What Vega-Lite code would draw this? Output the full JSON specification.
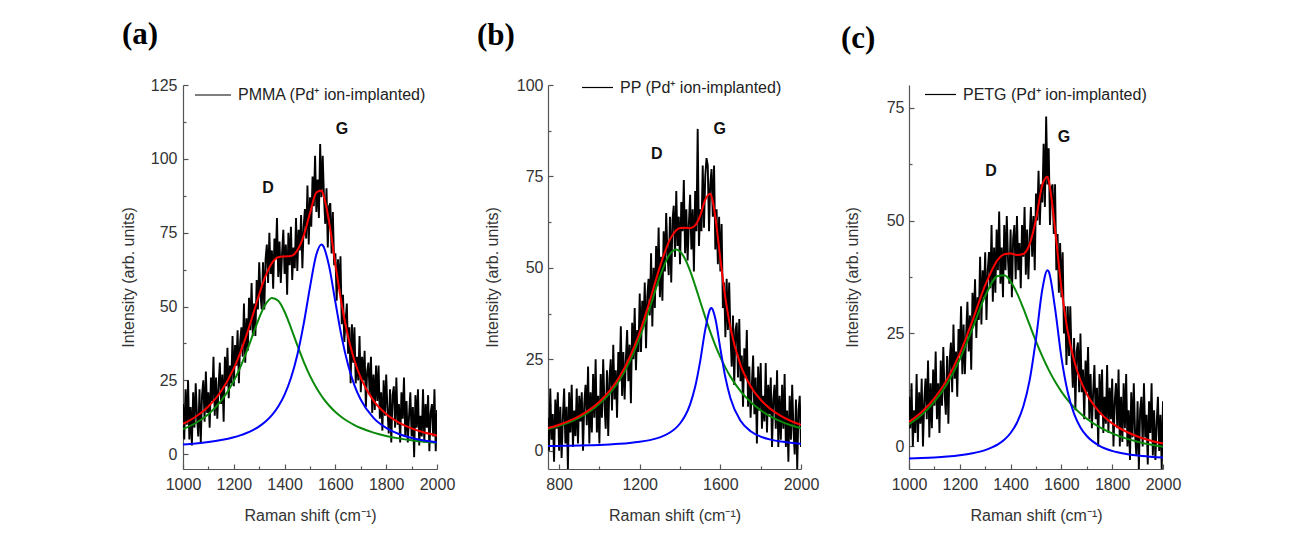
{
"$schema": "https://vega.github.io/schema/vega-lite/v6.json",
"background": "white",
"padding": {"left": 120, "top": 18, "right": 5, "bottom": 5},
"spacing": 22,
"datasets": {
"a_raw": [{"x":1000,"y":17},{"x":1005,"y":5},{"x":1010,"y":22},{"x":1015,"y":10},{"x":1020,"y":25},{"x":1025,"y":5},{"x":1030,"y":16},{"x":1035,"y":3},{"x":1040,"y":21},{"x":1045,"y":9},{"x":1050,"y":24},{"x":1055,"y":13},{"x":1060,"y":6},{"x":1065,"y":22},{"x":1070,"y":4},{"x":1075,"y":20},{"x":1080,"y":25},{"x":1085,"y":11},{"x":1090,"y":28},{"x":1095,"y":14},{"x":1100,"y":21},{"x":1105,"y":9},{"x":1110,"y":26},{"x":1115,"y":18},{"x":1120,"y":33},{"x":1125,"y":13},{"x":1130,"y":26},{"x":1135,"y":12},{"x":1140,"y":23},{"x":1145,"y":31},{"x":1150,"y":17},{"x":1155,"y":27},{"x":1160,"y":11},{"x":1165,"y":33},{"x":1170,"y":23},{"x":1175,"y":36},{"x":1180,"y":19},{"x":1185,"y":30},{"x":1190,"y":24},{"x":1195,"y":40},{"x":1200,"y":23},{"x":1205,"y":37},{"x":1210,"y":30},{"x":1215,"y":42},{"x":1220,"y":24},{"x":1225,"y":38},{"x":1230,"y":43},{"x":1235,"y":33},{"x":1240,"y":51},{"x":1245,"y":31},{"x":1250,"y":46},{"x":1255,"y":35},{"x":1260,"y":53},{"x":1265,"y":42},{"x":1270,"y":58},{"x":1275,"y":40},{"x":1280,"y":51},{"x":1285,"y":40},{"x":1290,"y":59},{"x":1295,"y":49},{"x":1300,"y":65},{"x":1305,"y":54},{"x":1310,"y":49},{"x":1315,"y":65},{"x":1320,"y":49},{"x":1325,"y":66},{"x":1330,"y":71},{"x":1335,"y":58},{"x":1340,"y":75},{"x":1345,"y":61},{"x":1350,"y":69},{"x":1355,"y":56},{"x":1360,"y":73},{"x":1365,"y":66},{"x":1370,"y":80},{"x":1375,"y":60},{"x":1380,"y":72},{"x":1385,"y":58},{"x":1390,"y":68},{"x":1395,"y":76},{"x":1400,"y":61},{"x":1405,"y":71},{"x":1410,"y":54},{"x":1415,"y":75},{"x":1420,"y":64},{"x":1425,"y":77},{"x":1430,"y":59},{"x":1435,"y":70},{"x":1440,"y":63},{"x":1445,"y":80},{"x":1450,"y":62},{"x":1455,"y":76},{"x":1460,"y":69},{"x":1465,"y":81},{"x":1470,"y":63},{"x":1475,"y":77},{"x":1480,"y":83},{"x":1485,"y":73},{"x":1490,"y":91},{"x":1495,"y":71},{"x":1500,"y":87},{"x":1505,"y":77},{"x":1510,"y":94},{"x":1515,"y":84},{"x":1520,"y":101},{"x":1525,"y":82},{"x":1530,"y":93},{"x":1535,"y":80},{"x":1540,"y":105},{"x":1545,"y":87},{"x":1550,"y":101},{"x":1555,"y":87},{"x":1560,"y":78},{"x":1565,"y":90},{"x":1570,"y":70},{"x":1575,"y":84},{"x":1580,"y":85},{"x":1585,"y":68},{"x":1590,"y":82},{"x":1595,"y":64},{"x":1600,"y":68},{"x":1605,"y":52},{"x":1610,"y":66},{"x":1615,"y":56},{"x":1620,"y":67},{"x":1625,"y":44},{"x":1630,"y":54},{"x":1635,"y":38},{"x":1640,"y":45},{"x":1645,"y":51},{"x":1650,"y":34},{"x":1655,"y":43},{"x":1660,"y":24},{"x":1665,"y":44},{"x":1670,"y":31},{"x":1675,"y":43},{"x":1680,"y":24},{"x":1685,"y":33},{"x":1690,"y":25},{"x":1695,"y":40},{"x":1700,"y":21},{"x":1705,"y":33},{"x":1710,"y":25},{"x":1715,"y":35},{"x":1720,"y":16},{"x":1725,"y":28},{"x":1730,"y":31},{"x":1735,"y":20},{"x":1740,"y":33},{"x":1745,"y":14},{"x":1750,"y":27},{"x":1755,"y":15},{"x":1760,"y":30},{"x":1765,"y":18},{"x":1770,"y":30},{"x":1775,"y":12},{"x":1780,"y":21},{"x":1785,"y":8},{"x":1790,"y":25},{"x":1795,"y":13},{"x":1800,"y":27},{"x":1805,"y":15},{"x":1810,"y":7},{"x":1815,"y":22},{"x":1820,"y":4},{"x":1825,"y":20},{"x":1830,"y":23},{"x":1835,"y":9},{"x":1840,"y":26},{"x":1845,"y":10},{"x":1850,"y":17},{"x":1855,"y":4},{"x":1860,"y":21},{"x":1865,"y":12},{"x":1870,"y":26},{"x":1875,"y":6},{"x":1880,"y":18},{"x":1885,"y":4},{"x":1890,"y":13},{"x":1895,"y":21},{"x":1900,"y":6},{"x":1905,"y":16},{"x":1910,"y":-1},{"x":1915,"y":20},{"x":1920,"y":9},{"x":1925,"y":22},{"x":1930,"y":3},{"x":1935,"y":13},{"x":1940,"y":6},{"x":1945,"y":22},{"x":1950,"y":4},{"x":1955,"y":17},{"x":1960,"y":9},{"x":1965,"y":20},{"x":1970,"y":1},{"x":1975,"y":14},{"x":1980,"y":17},{"x":1985,"y":6},{"x":1990,"y":22},{"x":1995,"y":1},{"x":2000,"y":15}],
"a_fit": [{"x":1000,"D":8.52,"G":3.27,"R":10.29},{"x":1050,"D":10.57,"G":3.63,"R":12.7},{"x":1100,"D":13.56,"G":4.12,"R":16.18},{"x":1150,"D":18.04,"G":4.79,"R":21.33},{"x":1200,"D":24.82,"G":5.75,"R":29.07},{"x":1225,"D":29.34,"G":6.39,"R":34.23},{"x":1250,"D":34.62,"G":7.18,"R":40.3},{"x":1275,"D":40.46,"G":8.17,"R":47.13},{"x":1300,"D":46.2,"G":9.44,"R":54.14},{"x":1325,"D":50.77,"G":11.09,"R":60.36},{"x":1350,"D":52.93,"G":13.26,"R":64.69},{"x":1375,"D":51.97,"G":16.19,"R":66.66},{"x":1400,"D":48.24,"G":20.21,"R":66.95},{"x":1425,"D":42.81,"G":25.8,"R":67.11},{"x":1450,"D":36.92,"G":33.6,"R":69.02},{"x":1475,"D":31.37,"G":44.06,"R":73.93},{"x":1500,"D":26.53,"G":56.59,"R":81.62},{"x":1525,"D":22.49,"G":67.59,"R":88.58},{"x":1545,"D":19.79,"G":71.0,"R":89.29},{"x":1550,"D":19.18,"G":70.78,"R":88.46},{"x":1575,"D":16.5,"G":63.77,"R":78.77},{"x":1600,"D":14.31,"G":51.48,"R":64.29},{"x":1625,"D":12.54,"G":39.55,"R":50.59},{"x":1650,"D":11.08,"G":30.18,"R":39.76},{"x":1675,"D":9.87,"G":23.34,"R":31.71},{"x":1700,"D":8.87,"G":18.44,"R":25.81},{"x":1750,"D":7.32,"G":12.31,"R":18.13},{"x":1800,"D":6.2,"G":8.9,"R":13.6},{"x":1850,"D":5.37,"G":6.84,"R":10.71},{"x":1900,"D":4.73,"G":5.52,"R":8.75},{"x":1950,"D":4.24,"G":4.63,"R":7.37},{"x":2000,"D":3.85,"G":4.01,"R":6.36}],
"a_lab": [{"x":1335,"y":90,"t":"D"},{"x":1626,"y":110,"t":"G"}],
"b_raw": [{"x":745,"y":9},{"x":750,"y":0},{"x":756.25,"y":17},{"x":762.5,"y":3},{"x":768.75,"y":10},{"x":775,"y":-3},{"x":781.25,"y":14},{"x":787.5,"y":6},{"x":793.75,"y":16},{"x":800,"y":0},{"x":806.25,"y":12},{"x":812.5,"y":-2},{"x":818.75,"y":9},{"x":825,"y":17},{"x":831.25,"y":2},{"x":837.5,"y":12},{"x":843.75,"y":-5},{"x":850,"y":16},{"x":856.25,"y":5},{"x":862.5,"y":18},{"x":868.75,"y":1},{"x":875,"y":11},{"x":881.25,"y":4},{"x":887.5,"y":17},{"x":893.75,"y":2},{"x":900,"y":15},{"x":906.25,"y":8},{"x":912.5,"y":16},{"x":918.75,"y":0},{"x":925,"y":13},{"x":931.25,"y":18},{"x":937.5,"y":7},{"x":943.75,"y":23},{"x":950,"y":2},{"x":956.25,"y":16},{"x":962.5,"y":5},{"x":968.75,"y":21},{"x":975,"y":9},{"x":981.25,"y":25},{"x":987.5,"y":5},{"x":993.75,"y":15},{"x":1000,"y":2},{"x":1006.25,"y":21},{"x":1012.5,"y":9},{"x":1018.75,"y":25},{"x":1025,"y":13},{"x":1031.25,"y":6},{"x":1037.5,"y":22},{"x":1043.75,"y":4},{"x":1050,"y":20},{"x":1056.25,"y":25},{"x":1062.5,"y":11},{"x":1068.75,"y":29},{"x":1075,"y":14},{"x":1081.25,"y":22},{"x":1087.5,"y":9},{"x":1093.75,"y":27},{"x":1100,"y":19},{"x":1106.25,"y":34},{"x":1112.5,"y":15},{"x":1118.75,"y":27},{"x":1125,"y":14},{"x":1131.25,"y":25},{"x":1137.5,"y":33},{"x":1143.75,"y":19},{"x":1150,"y":29},{"x":1156.25,"y":13},{"x":1162.5,"y":35},{"x":1168.75,"y":25},{"x":1175,"y":39},{"x":1181.25,"y":22},{"x":1187.5,"y":33},{"x":1193.75,"y":27},{"x":1200,"y":43},{"x":1206.25,"y":27},{"x":1212.5,"y":41},{"x":1218.75,"y":34},{"x":1225,"y":46},{"x":1231.25,"y":28},{"x":1237.5,"y":42},{"x":1243.75,"y":47},{"x":1250,"y":37},{"x":1256.25,"y":54},{"x":1262.5,"y":34},{"x":1268.75,"y":50},{"x":1275,"y":39},{"x":1281.25,"y":56},{"x":1287.5,"y":45},{"x":1293.75,"y":61},{"x":1300,"y":42},{"x":1306.25,"y":53},{"x":1312.5,"y":41},{"x":1318.75,"y":60},{"x":1325,"y":49},{"x":1331.25,"y":65},{"x":1337.5,"y":54},{"x":1343.75,"y":48},{"x":1350,"y":64},{"x":1356.25,"y":46},{"x":1362.5,"y":63},{"x":1368.75,"y":67},{"x":1375,"y":53},{"x":1381.25,"y":71},{"x":1387.5,"y":56},{"x":1393.75,"y":64},{"x":1400,"y":51},{"x":1406.25,"y":68},{"x":1412.5,"y":60},{"x":1418.75,"y":74},{"x":1425,"y":54},{"x":1431.25,"y":66},{"x":1437.5,"y":52},{"x":1443.75,"y":62},{"x":1450,"y":70},{"x":1456.25,"y":55},{"x":1462.5,"y":66},{"x":1468.75,"y":49},{"x":1475,"y":71},{"x":1481.25,"y":60},{"x":1487.5,"y":88},{"x":1493.75,"y":56},{"x":1500,"y":66},{"x":1506.25,"y":60},{"x":1512.5,"y":78},{"x":1518.75,"y":61},{"x":1525,"y":75},{"x":1531.25,"y":80},{"x":1537.5,"y":78},{"x":1543.75,"y":60},{"x":1550,"y":73},{"x":1556.25,"y":77},{"x":1562.5,"y":64},{"x":1568.75,"y":78},{"x":1575,"y":55},{"x":1581.25,"y":66},{"x":1587.5,"y":51},{"x":1593.75,"y":64},{"x":1600,"y":49},{"x":1606.25,"y":62},{"x":1612.5,"y":39},{"x":1618.75,"y":46},{"x":1625,"y":31},{"x":1631.25,"y":47},{"x":1637.5,"y":33},{"x":1643.75,"y":46},{"x":1650,"y":32},{"x":1656.25,"y":23},{"x":1662.5,"y":37},{"x":1668.75,"y":18},{"x":1675,"y":33},{"x":1681.25,"y":35},{"x":1687.5,"y":20},{"x":1693.75,"y":36},{"x":1700,"y":19},{"x":1706.25,"y":26},{"x":1712.5,"y":12},{"x":1718.75,"y":28},{"x":1725,"y":20},{"x":1731.25,"y":33},{"x":1737.5,"y":12},{"x":1743.75,"y":23},{"x":1750,"y":9},{"x":1756.25,"y":18},{"x":1762.5,"y":26},{"x":1768.75,"y":10},{"x":1775,"y":20},{"x":1781.25,"y":2},{"x":1787.5,"y":23},{"x":1793.75,"y":11},{"x":1800,"y":24},{"x":1806.25,"y":6},{"x":1812.5,"y":15},{"x":1818.75,"y":8},{"x":1825,"y":24},{"x":1831.25,"y":5},{"x":1837.5,"y":18},{"x":1843.75,"y":10},{"x":1850,"y":20},{"x":1856.25,"y":1},{"x":1862.5,"y":14},{"x":1868.75,"y":18},{"x":1875,"y":6},{"x":1881.25,"y":22},{"x":1887.5,"y":1},{"x":1893.75,"y":15},{"x":1900,"y":3},{"x":1906.25,"y":18},{"x":1912.5,"y":6},{"x":1918.75,"y":21},{"x":1925,"y":1},{"x":1931.25,"y":11},{"x":1937.5,"y":-3},{"x":1943.75,"y":15},{"x":1950,"y":3},{"x":1956.25,"y":18},{"x":1962.5,"y":6},{"x":1968.75,"y":-1},{"x":1975,"y":14},{"x":1981.25,"y":-5},{"x":1987.5,"y":11},{"x":1993.75,"y":15},{"x":2000,"y":1}],
"b_fit": [{"x":745,"D":5.92,"G":1.28,"R":6.21},{"x":750,"D":5.99,"G":1.29,"R":6.28},{"x":800,"D":6.79,"G":1.32,"R":7.11},{"x":850,"D":7.79,"G":1.37,"R":8.16},{"x":900,"D":9.06,"G":1.43,"R":9.49},{"x":950,"D":10.68,"G":1.5,"R":11.18},{"x":1000,"D":12.81,"G":1.59,"R":13.4},{"x":1050,"D":15.61,"G":1.72,"R":16.33},{"x":1100,"D":19.36,"G":1.88,"R":20.24},{"x":1150,"D":24.39,"G":2.1,"R":25.49},{"x":1200,"D":30.97,"G":2.42,"R":32.39},{"x":1250,"D":39.07,"G":2.9,"R":40.97},{"x":1300,"D":47.62,"G":3.66,"R":50.28},{"x":1350,"D":53.82,"G":4.97,"R":57.79},{"x":1380,"D":55,"G":6.24,"R":60.24},{"x":1400,"D":54.47,"G":7.44,"R":60.91},{"x":1425,"D":52.42,"G":9.54,"R":60.96},{"x":1450,"D":49.16,"G":12.69,"R":60.85},{"x":1475,"D":45.14,"G":17.48,"R":61.62},{"x":1500,"D":40.81,"G":24.5,"R":64.31},{"x":1525,"D":36.52,"G":33.1,"R":68.62},{"x":1550,"D":32.48,"G":38.81,"R":70.29},{"x":1555,"D":31.72,"G":39,"R":69.72},{"x":1560,"D":30.97,"G":38.81,"R":68.78},{"x":1575,"D":28.82,"G":36.13,"R":63.95},{"x":1600,"D":25.57,"G":27.89,"R":52.46},{"x":1625,"D":22.72,"G":20,"R":41.72},{"x":1650,"D":20.26,"G":14.37,"R":33.63},{"x":1700,"D":16.28,"G":8.18,"R":23.46},{"x":1750,"D":13.3,"G":5.34,"R":17.64},{"x":1800,"D":11.06,"G":3.87,"R":13.93},{"x":1850,"D":9.35,"G":3.03,"R":11.38},{"x":1900,"D":8.02,"G":2.5,"R":9.52},{"x":1950,"D":6.97,"G":2.16,"R":8.13},{"x":2000,"D":6.14,"G":1.92,"R":7.06}],
"b_lab": [{"x":1284,"y":81,"t":"D"},{"x":1597,"y":88,"t":"G"}],
"c_raw": [{"x":1000,"y":11},{"x":1005,"y":4},{"x":1010,"y":14},{"x":1015,"y":0},{"x":1020,"y":8},{"x":1025,"y":3},{"x":1030,"y":16},{"x":1035,"y":1},{"x":1040,"y":12},{"x":1045,"y":5},{"x":1050,"y":15},{"x":1055,"y":0},{"x":1060,"y":10},{"x":1065,"y":15},{"x":1070,"y":6},{"x":1075,"y":19},{"x":1080,"y":2},{"x":1085,"y":14},{"x":1090,"y":4},{"x":1095,"y":17},{"x":1100,"y":9},{"x":1105,"y":21},{"x":1110,"y":6},{"x":1115,"y":14},{"x":1120,"y":3},{"x":1125,"y":19},{"x":1130,"y":9},{"x":1135,"y":22},{"x":1140,"y":12},{"x":1145,"y":7},{"x":1150,"y":20},{"x":1155,"y":5},{"x":1160,"y":19},{"x":1165,"y":23},{"x":1170,"y":12},{"x":1175,"y":27},{"x":1180,"y":15},{"x":1185,"y":21},{"x":1190,"y":11},{"x":1195,"y":26},{"x":1200,"y":20},{"x":1205,"y":31},{"x":1210,"y":16},{"x":1215,"y":27},{"x":1220,"y":16},{"x":1225,"y":25},{"x":1230,"y":32},{"x":1235,"y":21},{"x":1240,"y":29},{"x":1245,"y":17},{"x":1250,"y":34},{"x":1255,"y":27},{"x":1260,"y":37},{"x":1265,"y":24},{"x":1270,"y":33},{"x":1275,"y":28},{"x":1280,"y":42},{"x":1285,"y":27},{"x":1290,"y":39},{"x":1295,"y":33},{"x":1300,"y":43},{"x":1305,"y":28},{"x":1310,"y":39},{"x":1315,"y":43},{"x":1320,"y":35},{"x":1325,"y":49},{"x":1330,"y":32},{"x":1335,"y":44},{"x":1340,"y":34},{"x":1345,"y":48},{"x":1350,"y":39},{"x":1355,"y":52},{"x":1360,"y":36},{"x":1365,"y":44},{"x":1370,"y":33},{"x":1375,"y":49},{"x":1380,"y":39},{"x":1385,"y":51},{"x":1390,"y":41},{"x":1395,"y":36},{"x":1400,"y":48},{"x":1405,"y":33},{"x":1410,"y":46},{"x":1415,"y":49},{"x":1420,"y":37},{"x":1425,"y":51},{"x":1430,"y":39},{"x":1435,"y":45},{"x":1440,"y":35},{"x":1445,"y":49},{"x":1450,"y":42},{"x":1455,"y":53},{"x":1460,"y":38},{"x":1465,"y":48},{"x":1470,"y":37},{"x":1475,"y":46},{"x":1480,"y":53},{"x":1485,"y":42},{"x":1490,"y":51},{"x":1495,"y":39},{"x":1500,"y":56},{"x":1505,"y":50},{"x":1510,"y":61},{"x":1515,"y":49},{"x":1520,"y":58},{"x":1525,"y":54},{"x":1530,"y":67},{"x":1535,"y":53},{"x":1540,"y":73},{"x":1545,"y":58},{"x":1550,"y":66},{"x":1555,"y":49},{"x":1560,"y":57},{"x":1565,"y":58},{"x":1570,"y":47},{"x":1575,"y":58},{"x":1580,"y":39},{"x":1585,"y":47},{"x":1590,"y":34},{"x":1595,"y":45},{"x":1600,"y":33},{"x":1605,"y":43},{"x":1610,"y":25},{"x":1615,"y":31},{"x":1620,"y":18},{"x":1625,"y":31},{"x":1630,"y":20},{"x":1635,"y":31},{"x":1640,"y":20},{"x":1645,"y":13},{"x":1650,"y":24},{"x":1655,"y":8},{"x":1660,"y":21},{"x":1665,"y":23},{"x":1670,"y":12},{"x":1675,"y":25},{"x":1680,"y":12},{"x":1685,"y":17},{"x":1690,"y":6},{"x":1695,"y":19},{"x":1700,"y":12},{"x":1705,"y":22},{"x":1710,"y":6},{"x":1715,"y":16},{"x":1720,"y":4},{"x":1725,"y":12},{"x":1730,"y":18},{"x":1735,"y":6},{"x":1740,"y":13},{"x":1745,"y":0},{"x":1750,"y":16},{"x":1755,"y":7},{"x":1760,"y":17},{"x":1765,"y":3},{"x":1770,"y":11},{"x":1775,"y":5},{"x":1780,"y":18},{"x":1785,"y":3},{"x":1790,"y":13},{"x":1795,"y":6},{"x":1800,"y":15},{"x":1805,"y":0},{"x":1810,"y":10},{"x":1815,"y":14},{"x":1820,"y":4},{"x":1825,"y":17},{"x":1830,"y":0},{"x":1835,"y":11},{"x":1840,"y":1},{"x":1845,"y":14},{"x":1850,"y":4},{"x":1855,"y":16},{"x":1860,"y":0},{"x":1865,"y":8},{"x":1870,"y":-3},{"x":1875,"y":12},{"x":1880,"y":2},{"x":1885,"y":14},{"x":1890,"y":3},{"x":1895,"y":-2},{"x":1900,"y":10},{"x":1905,"y":-5},{"x":1910,"y":8},{"x":1915,"y":11},{"x":1920,"y":0},{"x":1925,"y":14},{"x":1930,"y":2},{"x":1935,"y":7},{"x":1940,"y":-4},{"x":1945,"y":10},{"x":1950,"y":3},{"x":1955,"y":14},{"x":1960,"y":-2},{"x":1965,"y":8},{"x":1970,"y":-3},{"x":1975,"y":5},{"x":1980,"y":11},{"x":1985,"y":-1},{"x":1990,"y":7},{"x":1995,"y":-5},{"x":2000,"y":10}],
"c_fit": [{"x":1000,"D":4.93,"G":-2.69,"R":5.44},{"x":1050,"D":7.03,"G":-2.59,"R":7.64},{"x":1100,"D":9.9,"G":-2.45,"R":10.65},{"x":1150,"D":13.89,"G":-2.25,"R":14.84},{"x":1200,"D":19.3,"G":-1.96,"R":20.54},{"x":1250,"D":26.15,"G":-1.52,"R":27.83},{"x":1300,"D":33.29,"G":-0.81,"R":35.68},{"x":1350,"D":37.72,"G":0.45,"R":41.37},{"x":1375,"D":37.87,"G":1.47,"R":42.54},{"x":1400,"D":36.52,"G":2.97,"R":42.69},{"x":1425,"D":33.92,"G":5.24,"R":42.36},{"x":1450,"D":30.56,"G":8.83,"R":42.59},{"x":1475,"D":26.89,"G":14.67,"R":44.76},{"x":1500,"D":23.27,"G":23.81,"R":50.28},{"x":1525,"D":19.93,"G":34.78,"R":57.91},{"x":1545,"D":17.51,"G":39.0,"R":59.71},{"x":1550,"D":16.95,"G":38.71,"R":58.86},{"x":1575,"D":14.36,"G":30.56,"R":48.12},{"x":1600,"D":12.14,"G":19.73,"R":35.07},{"x":1625,"D":10.25,"G":11.99,"R":25.44},{"x":1650,"D":8.64,"G":7.19,"R":19.03},{"x":1675,"D":7.28,"G":4.21,"R":14.69},{"x":1700,"D":6.11,"G":2.3,"R":11.61},{"x":1750,"D":4.26,"G":0.13,"R":7.59},{"x":1800,"D":2.88,"G":-0.99,"R":5.09},{"x":1850,"D":1.84,"G":-1.63,"R":3.41},{"x":1900,"D":1.03,"G":-2.03,"R":2.2},{"x":1950,"D":0.4,"G":-2.29,"R":1.31},{"x":2000,"D":-0.1,"G":-2.48,"R":0.62}],
"c_lab": [{"x":1323,"y":61,"t":"D"},{"x":1610,"y":68.5,"t":"G"}]
},
"hconcat": [
{
"width": 254, "height": 384,
"title": {"text": "(a)", "anchor": "start", "frame": "group", "dx": -61, "offset": 25.5},
"resolve": {"axis": {"x": "independent", "y": "independent"}},
"layer": [
{"data": {"name": "a_raw"}, "mark": {"type": "line", "strokeWidth": 1.9, "clip": true},
 "encoding": {
  "x": {"field": "x", "type": "quantitative", "title": "Raman shift (cm⁻¹)", "scale": {"domain": [1000, 2000], "nice": false, "zero": false},
        "axis": {"values": [1000,1200,1400,1600,1800,2000], "format": "d", "tickSize": -5, "labelPadding": 12, "titlePadding": 15}},
  "y": {"field": "y", "type": "quantitative", "title": "Intensity (arb. units)", "scale": {"domain": [-5, 125], "nice": false, "zero": false},
        "axis": {"values": [0,25,50,75,100,125], "tickSize": -5, "labelPadding": 11, "titlePadding": 13.5}},
  "color": {"datum": "PMMA (Pd⁺ ion-implanted)", "type": "nominal", "scale": {"range": ["black"]},
            "legend": {"orient": "none", "legendX": 11, "legendY": -9, "symbolSize": 1296}}
 }},
{"data": {"name": "a_fit"}, "mark": {"type": "line", "color": "#0a8a0a", "strokeWidth": 2, "interpolate": "monotone", "clip": true},
 "encoding": {"x": {"field": "x", "type": "quantitative", "axis": {"orient": "bottom", "values": [1100,1300,1500,1700,1900], "tickSize": -3, "labels": false, "domain": false, "title": null}},
              "y": {"field": "D", "type": "quantitative", "axis": {"orient": "left", "values": [12.5,37.5,62.5,87.5,112.5], "tickSize": -3, "labels": false, "domain": false, "title": null}}}},
{"data": {"name": "a_fit"}, "mark": {"type": "line", "color": "#0000ff", "strokeWidth": 2, "interpolate": "monotone", "clip": true},
 "encoding": {"x": {"field": "x", "type": "quantitative", "axis": null}, "y": {"field": "G", "type": "quantitative", "axis": null}}},
{"data": {"name": "a_fit"}, "mark": {"type": "line", "color": "#ff0000", "strokeWidth": 2, "interpolate": "monotone", "clip": true},
 "encoding": {"x": {"field": "x", "type": "quantitative", "axis": null}, "y": {"field": "R", "type": "quantitative", "axis": null}}},
{"data": {"name": "a_lab"}, "mark": {"type": "text", "font": "Liberation Sans", "fontSize": 16, "fontWeight": "bold", "color": "#111"},
 "encoding": {"x": {"field": "x", "type": "quantitative", "axis": null}, "y": {"field": "y", "type": "quantitative", "axis": null}, "text": {"field": "t"}}}
]
},
{
"width": 253, "height": 384,
"title": {"text": "(b)", "anchor": "start", "frame": "group", "dx": -71, "offset": 19.5},
"resolve": {"axis": {"x": "independent", "y": "independent"}},
"layer": [
{"data": {"name": "b_raw"}, "mark": {"type": "line", "strokeWidth": 1.9, "clip": true},
 "encoding": {
  "x": {"field": "x", "type": "quantitative", "title": "Raman shift (cm⁻¹)", "scale": {"domain": [745, 2000], "nice": false, "zero": false},
        "axis": {"values": [800,1200,1600,2000], "format": "d", "tickSize": -5, "labelPadding": 12, "titlePadding": 15}},
  "y": {"field": "y", "type": "quantitative", "title": "Intensity (arb. units)", "scale": {"domain": [-5, 100], "nice": false, "zero": false},
        "axis": {"values": [0,25,50,75,100], "tickSize": -5, "labelPadding": 10, "titlePadding": 16}},
  "color": {"datum": "PP (Pd⁺ ion-implanted)", "type": "nominal", "scale": {"range": ["black"]},
            "legend": {"orient": "none", "legendX": 33, "legendY": -14, "symbolSize": 961}}
 }},
{"data": {"name": "b_fit"}, "mark": {"type": "line", "color": "#0a8a0a", "strokeWidth": 2, "interpolate": "monotone", "clip": true},
 "encoding": {"x": {"field": "x", "type": "quantitative", "axis": {"orient": "bottom", "values": [1000,1400,1800], "tickSize": -3, "labels": false, "domain": false, "title": null}},
              "y": {"field": "D", "type": "quantitative", "axis": {"orient": "left", "values": [12.5,37.5,62.5,87.5], "tickSize": -3, "labels": false, "domain": false, "title": null}}}},
{"data": {"name": "b_fit"}, "mark": {"type": "line", "color": "#0000ff", "strokeWidth": 2, "interpolate": "monotone", "clip": true},
 "encoding": {"x": {"field": "x", "type": "quantitative", "axis": null}, "y": {"field": "G", "type": "quantitative", "axis": null}}},
{"data": {"name": "b_fit"}, "mark": {"type": "line", "color": "#ff0000", "strokeWidth": 2, "interpolate": "monotone", "clip": true},
 "encoding": {"x": {"field": "x", "type": "quantitative", "axis": null}, "y": {"field": "R", "type": "quantitative", "axis": null}}},
{"data": {"name": "b_lab"}, "mark": {"type": "text", "font": "Liberation Sans", "fontSize": 16, "fontWeight": "bold", "color": "#111"},
 "encoding": {"x": {"field": "x", "type": "quantitative", "axis": null}, "y": {"field": "y", "type": "quantitative", "axis": null}, "text": {"field": "t"}}}
]
},
{
"width": 254, "height": 384,
"title": {"text": "(c)", "anchor": "start", "frame": "group", "dx": -68, "offset": 23},
"resolve": {"axis": {"x": "independent", "y": "independent"}},
"layer": [
{"data": {"name": "c_raw"}, "mark": {"type": "line", "strokeWidth": 1.9, "clip": true},
 "encoding": {
  "x": {"field": "x", "type": "quantitative", "title": "Raman shift (cm⁻¹)", "scale": {"domain": [1000, 2000], "nice": false, "zero": false},
        "axis": {"values": [1000,1200,1400,1600,1800,2000], "format": "d", "tickSize": -5, "labelPadding": 12, "titlePadding": 15}},
  "y": {"field": "y", "type": "quantitative", "title": "Intensity (arb. units)", "scale": {"domain": [-5, 80], "nice": false, "zero": false},
        "axis": {"values": [0,25,50,75], "tickSize": -5, "labelPadding": 10, "titlePadding": 26}},
  "color": {"datum": "PETG (Pd⁺ ion-implanted)", "type": "nominal", "scale": {"range": ["black"]},
            "legend": {"orient": "none", "legendX": 15, "legendY": -7, "symbolSize": 961}}
 }},
{"data": {"name": "c_fit"}, "mark": {"type": "line", "color": "#0a8a0a", "strokeWidth": 2, "interpolate": "monotone", "clip": true},
 "encoding": {"x": {"field": "x", "type": "quantitative", "axis": {"orient": "bottom", "values": [1100,1300,1500,1700,1900], "tickSize": -3, "labels": false, "domain": false, "title": null}},
              "y": {"field": "D", "type": "quantitative", "axis": {"orient": "left", "values": [12.5,37.5,62.5], "tickSize": -3, "labels": false, "domain": false, "title": null}}}},
{"data": {"name": "c_fit"}, "mark": {"type": "line", "color": "#0000ff", "strokeWidth": 2, "interpolate": "monotone", "clip": true},
 "encoding": {"x": {"field": "x", "type": "quantitative", "axis": null}, "y": {"field": "G", "type": "quantitative", "axis": null}}},
{"data": {"name": "c_fit"}, "mark": {"type": "line", "color": "#ff0000", "strokeWidth": 2, "interpolate": "monotone", "clip": true},
 "encoding": {"x": {"field": "x", "type": "quantitative", "axis": null}, "y": {"field": "R", "type": "quantitative", "axis": null}}},
{"data": {"name": "c_lab"}, "mark": {"type": "text", "font": "Liberation Sans", "fontSize": 16, "fontWeight": "bold", "color": "#111"},
 "encoding": {"x": {"field": "x", "type": "quantitative", "axis": null}, "y": {"field": "y", "type": "quantitative", "axis": null}, "text": {"field": "t"}}}
]
}
],
"resolve": {"scale": {"color": "independent"}, "legend": {"color": "independent"}},
"config": {
 "view": {"stroke": null},
 "axis": {"grid": false, "domainColor": "#555", "domainWidth": 1.2, "tickColor": "#555", "tickWidth": 1.2, "labelColor": "#333", "titleColor": "#333", "labelFont": "Liberation Sans", "titleFont": "Liberation Sans", "labelFontSize": 16, "titleFontSize": 16, "titleFontWeight": "normal", "labelFlush": false, "labelOverlap": false},
 "legend": {"title": null, "symbolType": "stroke", "symbolStrokeWidth": 1.2, "labelFont": "Liberation Sans", "labelFontSize": 16, "labelColor": "#222", "labelOffset": 6, "labelLimit": 400, "padding": 0},
 "title": {"font": "Liberation Serif", "fontSize": 31, "fontWeight": "bold", "color": "#000"}
}
}
